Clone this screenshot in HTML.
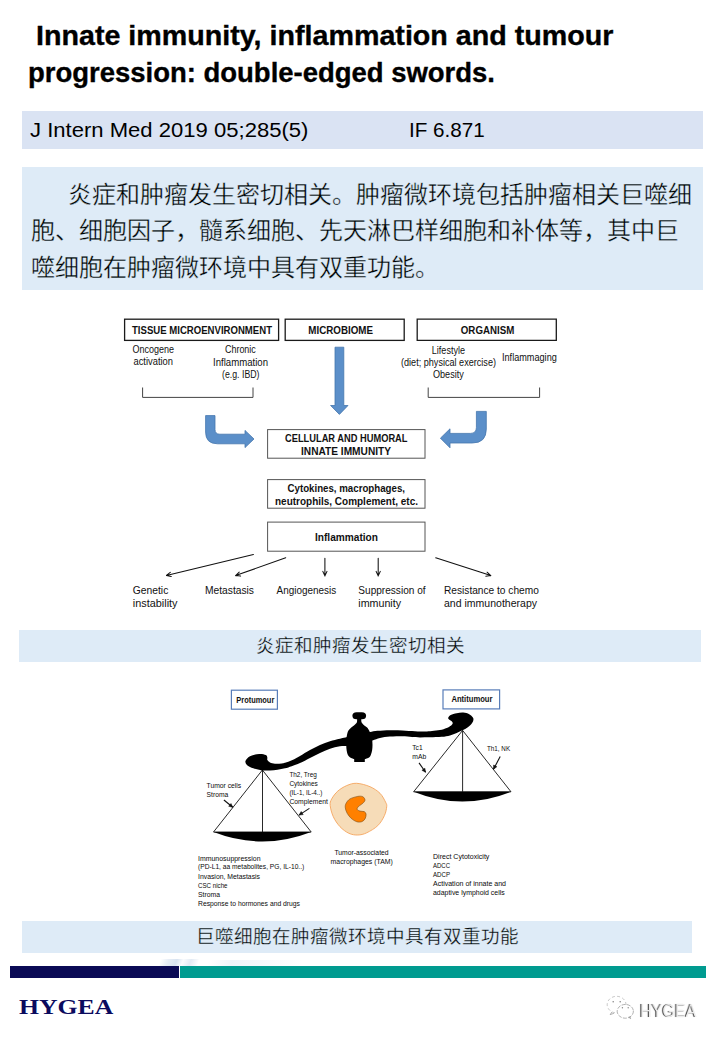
<!DOCTYPE html>
<html lang="zh-CN">
<head>
<meta charset="utf-8">
<title>Innate immunity, inflammation and tumour progression</title>
<style>
html,body{margin:0;padding:0;background:#fff;}
body{width:720px;height:1040px;position:relative;overflow:hidden;font-family:"Liberation Sans",sans-serif;}
.abs{position:absolute;white-space:nowrap;transform-origin:0 0;margin:0;padding:0;}
.bar{position:absolute;}
.t1{-webkit-text-stroke:0.35px #000;left:35.8px;top:18.50px;font-size:28px;line-height:33.6px;font-weight:bold;color:#000;transform:scaleX(1.0235);}
.t2{-webkit-text-stroke:0.35px #000;left:28.0px;top:55.50px;font-size:28px;line-height:33.6px;font-weight:bold;color:#000;transform:scaleX(0.981);}
.j1{left:29.6px;top:118.30px;font-size:20.5px;line-height:24.6px;color:#000;transform:scaleX(1.0763);}
.j2{left:409.3px;top:118.30px;font-size:20.5px;line-height:24.6px;color:#000;transform:scaleX(1.0066);}
.hy{left:19.4px;top:995.0px;font-size:21.6px;line-height:25.92px;font-weight:bold;font-family:"Liberation Serif",serif;color:#0b0b5e;transform:scaleX(1.19);}
.cn{-webkit-text-stroke:0.35px #deebf7;font-size:24px;line-height:36px;color:#000;}
.cap{-webkit-text-stroke:0.3px #deebf7;font-size:18.55px;line-height:32px;color:#000;text-align:center;}
.wm{left:640.2px;top:1000.3px;font-size:18.2px;line-height:22px;color:#ececec;text-shadow:-1px 0 0 #454545,-1.5px 0.3px 0.8px rgba(0,0,0,.3);transform:scaleX(0.885);will-change:transform;}
svg{position:absolute;left:0;top:0;overflow:visible;}
svg text{font-family:"Liberation Sans",sans-serif;}
</style>
</head>
<body>

<!-- title -->
<div class="abs t1">Innate immunity, inflammation and tumour</div>
<div class="abs t2">progression: double-edged swords.</div>

<!-- journal bar -->
<div class="bar" style="left:22px;top:111px;width:681px;height:38px;background:#dae3f3;"></div>
<div class="abs j1">J Intern Med 2019 05;285(5)</div>
<div class="abs j2">IF 6.871</div>

<!-- summary paragraph -->
<div class="bar" style="left:22px;top:167px;width:681px;height:123px;background:#deebf7;"></div>
<div class="abs cn" style="left:68.3px;top:176.6px;">炎症和肿瘤发生密切相关。肿瘤微环境包括肿瘤相关巨噬细</div>
<div class="abs cn" style="left:30.8px;top:213px;">胞、细胞因子，髓系细胞、先天淋巴样细胞和补体等，其中巨</div>
<div class="abs cn" style="left:30.8px;top:249.6px;">噬细胞在肿瘤微环境中具有双重功能。</div>

<!-- flowchart -->
<svg width="720" height="1040" viewBox="0 0 720 1040">
<g id="flow">
<rect x="124.6" y="319.2" width="154" height="21.2" fill="#fff" stroke="#1a1a1a" stroke-width="1.3"/>
<rect x="285.2" y="319.2" width="119" height="21.2" fill="#fff" stroke="#1a1a1a" stroke-width="1.3"/>
<path d="M556.3,319.2 H417.2 V340.4 H556.3 Z" fill="none" stroke="#1a1a1a" stroke-width="1.3"/>
<text x="132.0" y="334.4" font-size="10.4" font-weight="bold" fill="#111" textLength="140.0" lengthAdjust="spacingAndGlyphs">TISSUE MICROENVIRONMENT</text>
<text x="308.3" y="334.4" font-size="10.4" font-weight="bold" fill="#111" textLength="64.7" lengthAdjust="spacingAndGlyphs">MICROBIOME</text>
<text x="460.8" y="334.4" font-size="10.4" font-weight="bold" fill="#111" textLength="53.5" lengthAdjust="spacingAndGlyphs">ORGANISM</text>
<text x="132.5" y="353.2" font-size="10.1" fill="#111" textLength="41.5" lengthAdjust="spacingAndGlyphs">Oncogene</text>
<text x="133.5" y="365.4" font-size="10.1" fill="#111" textLength="39.5" lengthAdjust="spacingAndGlyphs">activation</text>
<text x="225.0" y="353.4" font-size="10.1" fill="#111" textLength="30.8" lengthAdjust="spacingAndGlyphs">Chronic</text>
<text x="213.0" y="365.8" font-size="10.1" fill="#111" textLength="55.0" lengthAdjust="spacingAndGlyphs">Inflammation</text>
<text x="222.0" y="378.2" font-size="10.1" fill="#111" textLength="37.5" lengthAdjust="spacingAndGlyphs">(e.g. IBD)</text>
<text x="431.8" y="353.6" font-size="10.1" fill="#111" textLength="33.2" lengthAdjust="spacingAndGlyphs">Lifestyle</text>
<text x="401.0" y="366.0" font-size="10.1" fill="#111" textLength="95.0" lengthAdjust="spacingAndGlyphs">(diet; physical exercise)</text>
<text x="433.0" y="378.2" font-size="10.1" fill="#111" textLength="30.8" lengthAdjust="spacingAndGlyphs">Obesity</text>
<text x="502.0" y="361.2" font-size="10.1" fill="#111" textLength="54.8" lengthAdjust="spacingAndGlyphs">Inflammaging</text>
<path d="M142.6,387.5 V397.4 H253 V387.5 M428.2,387.5 V397.4 H539.6 V387.5" fill="none" stroke="#444" stroke-width="1"/>
<path d="M335,347.2 H343.8 V405.5 H348 L339.4,414.4 L330.6,405.5 H335 Z" fill="#5b8fc9" stroke="#4576ad" stroke-width="0.8" stroke-linejoin="round"/>
<path d="M205.6,415.6 H215 V429.4 Q215,434.2 219.8,434.2 H245 V430.4 L254,439 L245,447.6 V443.8 H217.5 Q205.6,443.8 205.6,432 Z" fill="#5b8fc9" stroke="#4576ad" stroke-width="0.8" stroke-linejoin="round"/>
<path d="M486.3,411.4 H476.4 V427.4 Q476.4,433.4 470.4,433.4 H450 V428.8 L440.4,438.2 L450,447.8 V443 H472.3 Q486.3,443 486.3,429 Z" fill="#5b8fc9" stroke="#4576ad" stroke-width="0.8" stroke-linejoin="round"/>
<rect x="267.6" y="429.6" width="157.4" height="28.6" fill="#fff" stroke="#555" stroke-width="1"/>
<rect x="267.6" y="479.6" width="157.4" height="28.6" fill="#fff" stroke="#555" stroke-width="1"/>
<rect x="267.6" y="522.1" width="157.4" height="29.1" fill="#fff" stroke="#555" stroke-width="1"/>
<text x="285.0" y="442.0" font-size="10.4" font-weight="bold" fill="#111" textLength="122.5" lengthAdjust="spacingAndGlyphs">CELLULAR AND HUMORAL</text>
<text x="301.0" y="455.0" font-size="10.4" font-weight="bold" fill="#111" textLength="90.0" lengthAdjust="spacingAndGlyphs">INNATE IMMUNITY</text>
<text x="287.5" y="492.0" font-size="10.4" font-weight="bold" fill="#111" textLength="117.5" lengthAdjust="spacingAndGlyphs">Cytokines, macrophages,</text>
<text x="275.0" y="505.0" font-size="10.4" font-weight="bold" fill="#111" textLength="143.0" lengthAdjust="spacingAndGlyphs">neutrophils, Complement, etc.</text>
<text x="315.0" y="541.0" font-size="10.4" font-weight="bold" fill="#111" textLength="63.0" lengthAdjust="spacingAndGlyphs">Inflammation</text>
<path d="M253.4,554.6 L166.4,575.4 M171.3,576.4 L166.4,575.4 L170.3,572.3" fill="none" stroke="#111" stroke-width="1.05" stroke-linecap="round" stroke-linejoin="round"/>
<path d="M285.7,557.8 L235.6,575.6 M240.6,576.1 L235.6,575.6 L239.2,572.1" fill="none" stroke="#111" stroke-width="1.05" stroke-linecap="round" stroke-linejoin="round"/>
<path d="M324.9,558.3 L324.9,575.9 M327.0,571.4 L324.9,575.9 L322.8,571.4" fill="none" stroke="#111" stroke-width="1.05" stroke-linecap="round" stroke-linejoin="round"/>
<path d="M378.2,558.3 L378.2,575.9 M380.3,571.4 L378.2,575.9 L376.1,571.4" fill="none" stroke="#111" stroke-width="1.05" stroke-linecap="round" stroke-linejoin="round"/>
<path d="M435.7,557.8 L490.8,575.6 M487.1,572.2 L490.8,575.6 L485.8,576.2" fill="none" stroke="#111" stroke-width="1.05" stroke-linecap="round" stroke-linejoin="round"/>
<text x="132.8" y="594.0" font-size="10.1" fill="#111" textLength="35.5" lengthAdjust="spacingAndGlyphs">Genetic</text>
<text x="132.8" y="607.0" font-size="10.1" fill="#111" textLength="44.7" lengthAdjust="spacingAndGlyphs">instability</text>
<text x="205.0" y="594.0" font-size="10.1" fill="#111" textLength="49.0" lengthAdjust="spacingAndGlyphs">Metastasis</text>
<text x="276.6" y="594.0" font-size="10.1" fill="#111" textLength="59.6" lengthAdjust="spacingAndGlyphs">Angiogenesis</text>
<text x="358.3" y="594.0" font-size="10.1" fill="#111" textLength="67.3" lengthAdjust="spacingAndGlyphs">Suppression of</text>
<text x="358.3" y="607.0" font-size="10.1" fill="#111" textLength="42.7" lengthAdjust="spacingAndGlyphs">immunity</text>
<text x="444.0" y="594.0" font-size="10.1" fill="#111" textLength="94.8" lengthAdjust="spacingAndGlyphs">Resistance to chemo</text>
<text x="444.0" y="607.0" font-size="10.1" fill="#111" textLength="93.0" lengthAdjust="spacingAndGlyphs">and immunotherapy</text>
</g>
</svg>


<!-- caption 1 -->
<div class="bar" style="left:19px;top:630px;width:682px;height:32px;background:#deebf7;"></div>
<div class="abs cap" style="left:19px;top:630px;width:682px;">炎症和肿瘤发生密切相关</div>

<!-- balance diagram -->
<svg width="720" height="1040" viewBox="0 0 720 1040">
<g id="balance">
<rect x="231.4" y="690.2" width="46" height="19" fill="#fff" stroke="#587db9" stroke-width="1.2"/>
<rect x="443" y="689.9" width="56.6" height="19" fill="#fff" stroke="#587db9" stroke-width="1.2"/>
<text x="236.3" y="702.6" font-size="8.2" font-weight="bold" fill="#111" textLength="38.0" lengthAdjust="spacingAndGlyphs">Protumour</text>
<text x="451.4" y="702.2" font-size="8.2" font-weight="bold" fill="#111" textLength="41.1" lengthAdjust="spacingAndGlyphs">Antitumour</text>
<path d="M262.4,770 L213.5,832 H311.2 Z M262.5,770 V832" fill="none" stroke="#111" stroke-width="0.9" stroke-linejoin="miter"/>
<path d="M213.5,832 H311.2 Q262.4,851 213.5,832 Z" fill="#000"/>
<path d="M462.6,730.4 L413.6,791.8 H511 Z M462.6,730.4 V791.8" fill="none" stroke="#111" stroke-width="0.9" stroke-linejoin="miter"/>
<path d="M413.6,791.8 H511 Q462.4,811.4 413.6,791.8 Z" fill="#000"/>
<path d="M245.4,761.2 C245.8,759.7 247.7,757.5 250.0,756.2 C252.3,755.0 256.6,754.2 259.2,754.0 C261.8,753.8 264.4,754.4 265.8,755.0 C267.2,755.6 267.1,756.7 267.3,757.5 C267.6,758.3 266.9,759.0 267.3,759.8 C267.8,760.6 268.7,761.8 270.0,762.5 C271.3,763.2 273.1,763.6 275.0,763.8 C276.9,763.9 279.5,763.8 281.7,763.5 C283.9,763.2 286.2,762.4 288.3,761.7 C290.4,761.0 292.2,760.2 294.2,759.2 C296.1,758.2 297.4,757.5 300.0,756.0 C302.6,754.5 306.7,751.8 310.0,750.0 C313.3,748.2 316.7,746.5 320.0,745.0 C323.3,743.5 326.7,742.3 330.0,741.3 C333.3,740.3 336.3,739.5 340.0,738.8 C343.7,738.0 350.0,735.8 352.0,736.8 C354.0,737.8 354.0,743.4 352.0,745.0 C350.0,746.6 343.7,745.6 340.0,746.2 C336.3,746.9 333.3,747.6 330.0,748.8 C326.7,749.9 323.3,751.4 320.0,752.9 C316.7,754.4 313.3,756.2 310.0,757.9 C306.7,759.6 303.1,761.7 300.0,763.1 C296.9,764.5 294.2,765.4 291.7,766.2 C289.2,767.1 287.4,767.7 285.0,768.3 C282.6,768.9 280.0,769.4 277.5,769.8 C275.0,770.1 272.6,770.3 270.0,770.4 C267.4,770.5 264.9,770.8 262.1,770.4 C259.3,770.0 255.7,769.1 253.3,768.3 C250.9,767.5 248.8,766.6 247.5,765.4 C246.2,764.2 245.0,762.8 245.4,761.2 Z" fill="#000"/>
<path d="M364.0,733.0 C365.0,731.3 367.8,732.5 370.0,732.1 C372.2,731.7 374.2,731.1 377.5,730.8 C380.8,730.5 385.8,730.3 390.0,730.2 C394.2,730.1 398.3,730.2 402.5,730.4 C406.7,730.6 411.2,731.0 415.0,731.2 C418.8,731.4 422.2,731.5 425.0,731.5 C427.8,731.5 429.5,731.2 432.0,731.0 C434.5,730.8 437.6,730.5 440.0,730.0 C442.4,729.5 444.8,728.7 446.7,727.9 C448.6,727.1 450.2,726.2 451.2,725.4 C452.2,724.6 452.6,724.0 452.7,723.3 C452.8,722.6 452.4,721.9 451.7,721.2 C451.0,720.6 449.3,719.8 448.8,719.2 C448.2,718.6 448.0,718.2 448.3,717.5 C448.6,716.8 449.4,715.7 450.8,715.0 C452.2,714.3 454.6,713.6 456.7,713.2 C458.8,712.8 461.2,712.3 463.3,712.5 C465.4,712.7 467.6,713.4 469.2,714.2 C470.8,715.0 472.2,716.5 472.9,717.5 C473.6,718.5 473.6,719.3 473.3,720.4 C473.0,721.5 472.4,723.0 471.2,724.2 C470.1,725.5 468.2,726.9 466.7,727.9 C465.2,728.9 464.2,729.5 462.5,730.3 C460.8,731.1 458.8,732.0 456.7,732.9 C454.6,733.8 452.5,734.8 450.0,735.4 C447.5,736.0 445.0,736.5 441.7,736.8 C438.4,737.1 433.6,737.2 430.0,737.3 C426.4,737.4 423.0,737.4 420.0,737.4 C417.0,737.4 414.9,737.2 412.0,737.0 C409.1,736.8 406.2,736.3 402.5,736.2 C398.8,736.2 393.8,736.2 390.0,736.5 C386.2,736.8 382.9,737.2 380.0,737.9 C377.1,738.5 375.2,739.6 372.5,740.4 C369.8,741.2 365.4,743.7 364.0,742.5 C362.6,741.3 363.0,734.7 364.0,733.0 Z" fill="#000"/>
<rect x="352.4" y="712.2" width="13.7" height="7.1" rx="4.2" ry="3.5" fill="#000"/>
<path d="M357.1,718 C357.1,721 357.3,722 356.5,723 C355,725 353,726 351.25,727.5 C349,729.5 347.8,731 347.3,733.5 C346.4,737 346.2,741 346.25,745 C346.3,749 346.8,752.5 347.9,755 C349,757 350.5,758 352.5,758.6 L354.2,759.2 V762.1 H364.8 V759.2 L366.7,758.6 C369,758 370.2,757 370.8,755 C372,752 372.5,749 372.5,745 C372.5,740 371.8,736 370,732.5 C369,730 368,728.5 367.1,727.5 C365.5,726 363,725 362,723 C361.2,722 361.25,721 361.25,718 Z" fill="#000"/>
<path d="M356.7,783.3 C360.6,783.5 366.1,785.0 370.0,786.7 C373.9,788.4 377.4,790.7 380.0,793.3 C382.6,795.9 384.5,800.0 385.6,802.2 C386.7,804.4 386.9,804.5 386.7,806.7 C386.5,808.9 385.9,812.5 384.4,815.6 C382.9,818.8 380.8,822.7 377.8,825.6 C374.9,828.5 370.0,831.2 366.7,832.8 C363.4,834.4 360.8,834.9 357.8,835.0 C354.8,835.1 351.9,834.7 348.9,833.3 C345.9,831.9 342.6,829.5 340.0,826.7 C337.4,823.9 334.9,820.2 333.3,816.7 C331.7,813.2 330.5,808.6 330.2,805.6 C329.9,802.6 330.4,801.3 331.7,798.9 C333.0,796.5 335.3,793.3 337.8,791.1 C340.3,788.9 343.6,786.9 346.7,785.6 C349.8,784.3 352.8,783.1 356.7,783.3 Z" fill="#f6dcb8" stroke="#f5a55e" stroke-width="0.9"/>
<path d="M346.1,803.3 C346.9,801.8 348.1,800.0 350.0,798.9 C351.9,797.8 355.7,796.8 357.8,796.4 C359.9,796.0 361.6,796.1 362.8,796.7 C364.0,797.3 365.0,798.9 365.0,800.0 C365.0,801.1 363.9,802.2 362.8,803.3 C361.7,804.4 359.2,805.7 358.3,806.7 C357.4,807.7 356.9,808.7 357.2,809.4 C357.5,810.1 358.8,810.7 360.0,811.1 C361.2,811.5 363.4,811.2 364.4,811.7 C365.4,812.2 366.0,813.2 366.1,814.4 C366.2,815.6 365.7,817.7 365.0,818.9 C364.3,820.1 363.1,821.2 361.7,821.7 C360.3,822.2 358.5,822.3 356.7,821.7 C354.9,821.1 352.7,819.7 351.1,818.3 C349.5,816.9 348.2,815.0 347.2,813.3 C346.2,811.5 345.5,809.5 345.3,807.8 C345.1,806.1 345.3,804.8 346.1,803.3 Z" fill="#ff8000" stroke="#7a4a12" stroke-width="0.6"/>
<text x="206.6" y="787.8" font-size="7.7" fill="#0a0a0a" textLength="34.6" lengthAdjust="spacingAndGlyphs">Tumor cells</text>
<text x="206.6" y="796.7" font-size="7.7" fill="#0a0a0a" textLength="21.7" lengthAdjust="spacingAndGlyphs">Stroma</text>
<text x="289.4" y="777.3" font-size="7.7" fill="#0a0a0a" textLength="27.4" lengthAdjust="spacingAndGlyphs">Th2, Treg</text>
<text x="289.4" y="786.2" font-size="7.7" fill="#0a0a0a" textLength="28.4" lengthAdjust="spacingAndGlyphs">Cytokines</text>
<text x="289.4" y="795.4" font-size="7.7" fill="#0a0a0a" textLength="33.1" lengthAdjust="spacingAndGlyphs">(IL-1, IL-4..)</text>
<text x="289.4" y="804.2" font-size="7.7" fill="#0a0a0a" textLength="38.5" lengthAdjust="spacingAndGlyphs">Complement</text>
<text x="412.3" y="750.3" font-size="7.7" fill="#0a0a0a" textLength="10.3" lengthAdjust="spacingAndGlyphs">Tc1</text>
<text x="412.3" y="759.3" font-size="7.7" fill="#0a0a0a" textLength="13.9" lengthAdjust="spacingAndGlyphs">mAb</text>
<text x="487.0" y="751.2" font-size="7.7" fill="#0a0a0a" textLength="23.1" lengthAdjust="spacingAndGlyphs">Th1, NK</text>
<path d="M223.9,800.0 L232.8,807.3" stroke="#111" stroke-width="1.1" fill="none"/>
<path d="M232.8,807.3 L231.0,803.5 L228.7,806.3 Z" fill="#111" stroke="#111" stroke-width="0.5" stroke-linejoin="round"/>
<path d="M309.4,808.4 L299.0,815.1" stroke="#111" stroke-width="1.1" fill="none"/>
<path d="M299.0,815.1 L303.2,814.6 L301.2,811.5 Z" fill="#111" stroke="#111" stroke-width="0.5" stroke-linejoin="round"/>
<path d="M419.0,762.9 L425.6,772.3" stroke="#111" stroke-width="1.1" fill="none"/>
<path d="M425.6,772.3 L424.9,768.2 L421.9,770.3 Z" fill="#111" stroke="#111" stroke-width="0.5" stroke-linejoin="round"/>
<path d="M500.2,756.6 L493.5,769.2" stroke="#111" stroke-width="1.1" fill="none"/>
<path d="M493.5,769.2 L496.9,766.7 L493.6,765.0 Z" fill="#111" stroke="#111" stroke-width="0.5" stroke-linejoin="round"/>
<text x="198.0" y="860.5" font-size="7.5" fill="#0a0a0a" textLength="62.5" lengthAdjust="spacingAndGlyphs">Immunosuppression</text>
<text x="198.0" y="869.4" font-size="7.5" fill="#0a0a0a" textLength="106.3" lengthAdjust="spacingAndGlyphs">(PD-L1, aa metabolites, PG, IL-10..)</text>
<text x="198.0" y="878.7" font-size="7.5" fill="#0a0a0a" textLength="62.0" lengthAdjust="spacingAndGlyphs">Invasion, Metastasis</text>
<text x="198.0" y="887.6" font-size="7.5" fill="#0a0a0a" textLength="29.5" lengthAdjust="spacingAndGlyphs">CSC niche</text>
<text x="198.0" y="896.6" font-size="7.5" fill="#0a0a0a" textLength="22.0" lengthAdjust="spacingAndGlyphs">Stroma</text>
<text x="198.0" y="906.0" font-size="7.5" fill="#0a0a0a" textLength="102.0" lengthAdjust="spacingAndGlyphs">Response to hormones and drugs</text>
<text x="334.4" y="855.0" font-size="7.5" fill="#0a0a0a" textLength="54.2" lengthAdjust="spacingAndGlyphs">Tumor-associated</text>
<text x="330.6" y="864.0" font-size="7.5" fill="#0a0a0a" textLength="62.2" lengthAdjust="spacingAndGlyphs">macrophages (TAM)</text>
<text x="433.0" y="859.0" font-size="7.5" fill="#0a0a0a" textLength="56.4" lengthAdjust="spacingAndGlyphs">Direct Cytotoxicity</text>
<text x="433.0" y="868.3" font-size="7.5" fill="#0a0a0a" textLength="17.0" lengthAdjust="spacingAndGlyphs">ADCC</text>
<text x="433.0" y="877.3" font-size="7.5" fill="#0a0a0a" textLength="17.0" lengthAdjust="spacingAndGlyphs">ADCP</text>
<text x="433.0" y="886.4" font-size="7.5" fill="#0a0a0a" textLength="73.0" lengthAdjust="spacingAndGlyphs">Activation of innate and</text>
<text x="433.0" y="895.4" font-size="7.5" fill="#0a0a0a" textLength="71.7" lengthAdjust="spacingAndGlyphs">adaptive lymphoid cells</text>
</g>
</svg>


<!-- caption 2 -->
<div class="bar" style="left:22px;top:921px;width:670px;height:32px;background:#deebf7;"></div>
<div class="abs cap" style="left:22px;top:921px;width:670px;">巨噬细胞在肿瘤微环境中具有双重功能</div>

<!-- footer stripe -->
<div class="bar" style="left:160px;top:958.5px;width:38px;height:7.5px;background:linear-gradient(100deg,rgba(230,237,246,0) 0%,rgba(226,234,244,.85) 20%,rgba(214,226,240,.95) 42%,rgba(244,247,251,.5) 58%,rgba(222,231,242,.85) 78%,rgba(226,234,244,0) 100%);transform:skewX(-14deg);"></div>
<div class="bar" style="left:208px;top:959.5px;width:94px;height:5.5px;background:linear-gradient(90deg,rgba(236,241,248,0) 0%,rgba(236,241,248,.8) 25%,rgba(240,244,250,.6) 60%,rgba(236,241,248,0) 100%);transform:skewX(-14deg);"></div>
<div class="bar" style="left:10px;top:965.6px;width:169.2px;height:12.4px;background:#0a0a55;"></div>
<div class="bar" style="left:179.6px;top:965.6px;width:526.4px;height:12.4px;background:#009b90;"></div>
<div class="abs hy">HYGEA</div>

<!-- watermark -->
<svg width="720" height="1040" viewBox="0 0 720 1040">
<g id="wechat" fill="#fff" stroke="#6e6e6e" stroke-width="0.7" stroke-linecap="round">
<path d="M611.6,1012.4 L610.2,1014.6 L613.6,1013.4" fill="none" stroke-opacity="0.75"/>
<ellipse cx="616.6" cy="1004.6" rx="9.4" ry="8.3" stroke-dasharray="2.2 3.1" stroke-opacity="0.55"/>
<ellipse cx="625.3" cy="1011.3" rx="8.1" ry="6.9" stroke-dasharray="3.2 2.1" stroke-opacity="0.75"/>
<path d="M629,1017.4 L630.6,1018.6 L630,1016.8" fill="none" stroke-opacity="0.75"/>
<g fill="#555" stroke="none" fill-opacity="0.7">
<circle cx="613.2" cy="1001.8" r="0.8"/><circle cx="620.2" cy="1001.8" r="0.8"/>
<circle cx="622.4" cy="1007.7" r="0.7"/><circle cx="628.2" cy="1007.7" r="0.7"/>
</g>
</g>
</svg>

<div class="abs wm">HYGEA</div>

</body>
</html>
